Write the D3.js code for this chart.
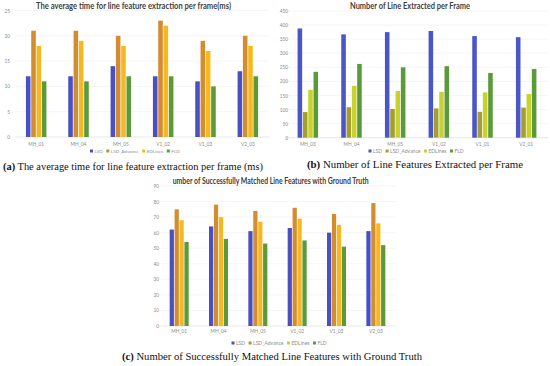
<!DOCTYPE html>
<html><head><meta charset="utf-8">
<script src="https://cdn.jsdelivr.net/npm/d3@7"></script>
<style>
body{margin:0;background:#fff;}
svg{display:block;}
</style></head>
<body>
<svg id="c" width="550" height="366"></svg>
<script>
// ---- DATA ----
const seriesNames = ["LSD", "LSD_Advance", "EDLines", "FLD"];

// (a) average time per frame (ms)
const timeCategories = ["MH_01", "MH_04", "MH_05", "V1_02", "V1_03", "V2_03"];
const timeLSD        = [12, 12, 14, 12, 11, 13];
const timeLSDAdv     = [21, 21, 20, 23, 19, 20];
const timeEDLines    = [18, 19, 18, 22, 17, 18];
const timeFLD        = [11, 11, 12, 12, 10, 12];
const timeTicks      = [0, 5, 10, 15, 20, 25];

// (b) number of lines extracted per frame
const countCategories = ["MH_03", "MH_04", "MH_05", "V1_02", "V1_01", "V2_01"];
const countLSD        = [388, 367, 375, 379, 361, 357];
const countLSDAdv     = [91, 108, 102, 104, 92, 107];
const countEDLines    = [170, 184, 166, 163, 161, 155];
const countFLD        = [234, 262, 250, 254, 230, 244];
const countTicks      = [0, 50, 100, 150, 200, 250, 300, 350, 400, 450];

// (c) successfully matched line features
const matchCategories = ["MH_01", "MH_04", "MH_05", "V1_02", "V1_03", "V2_03"];
const matchLSD        = [62, 64, 61, 63, 60, 61];
const matchLSDAdv     = [75, 78, 74, 76, 72, 79];
const matchEDLines    = [68, 70, 67, 69, 65, 66];
const matchFLD        = [54, 56, 53, 55, 51, 52];
const matchTicks      = [0, 10, 20, 30, 40, 50, 60, 70, 80, 90];

// ---- DRAW ----
const svg = d3.select("#c");
const colorsA = ["#4a50c2", "#d38c2e", "#f5b820", "#5a9a3a"];
const colorsB = ["#4a55c6", "#a39e2e", "#c9d22c", "#5a9a3a"];

function drawChart(o) {
  const g = svg.append("g");
  const x0 = d3.scaleBand().domain(o.categories).range(o.xRange);
  const x1 = d3.scaleBand().domain(seriesNames).range([-o.groupW / 2, o.groupW / 2]).paddingInner(0.14);
  const y = d3.scaleLinear().domain([0, d3.max(o.ticks)]).range(o.yRange);

  // gridlines
  g.append("g").selectAll("line").data(o.ticks).join("line")
    .attr("x1", o.xRange[0]).attr("x2", o.xRange[1])
    .attr("y1", d => y(d)).attr("y2", d => y(d))
    .attr("stroke", d => d === 0 ? "#d9d9d9" : "#eeeeee").attr("stroke-width", 0.6);

  // y tick labels via axis
  const yAxis = g.append("g").attr("transform", `translate(${o.yLabelX},0)`)
    .call(d3.axisLeft(y).tickValues(o.ticks).tickSize(0).tickPadding(0));
  yAxis.select(".domain").remove();
  yAxis.selectAll("text").attr("font-size", 4.8).attr("fill", "#8c8c8c")
    .attr("font-family", "Lato, 'Open Sans', sans-serif");

  // x axis labels
  const xAxis = g.append("g").attr("transform", `translate(0,${o.xLabelY})`)
    .call(d3.axisBottom(x0).tickSize(0).tickPadding(0));
  xAxis.select(".domain").remove();
  xAxis.selectAll("text").attr("font-size", 4.8).attr("fill", "#8c8c8c").attr("dy", "0.35em")
    .attr("font-family", "Lato, 'Open Sans', sans-serif");

  // bars
  const rows = o.categories.map((c, i) => ({ c, vals: o.series.map((s, k) => ({ k, name: seriesNames[k], v: s[i] })) }));
  g.append("g").selectAll("g").data(rows).join("g")
    .attr("transform", d => `translate(${x0(d.c) + x0.bandwidth() / 2},0)`)
    .selectAll("rect").data(d => d.vals).join("rect")
    .attr("x", d => x1(d.name)).attr("width", x1.bandwidth())
    .attr("y", d => y(d.v)).attr("height", d => y(0) - y(d.v))
    .attr("fill", d => o.colors[d.k]);

  // title
  g.append("text").attr("x", o.titleX).attr("y", o.titleY)
    .attr("font-family", "Lato, 'Open Sans', sans-serif").attr("font-weight", "bold")
    .attr("font-size", 8.6).attr("fill", "#404040")
    .attr("text-anchor", o.titleAnchor || "middle")
    .attr("textLength", o.titleW).attr("lengthAdjust", "spacingAndGlyphs")
    .text(o.title);

  // legend
  const lg = g.append("g").attr("transform", `translate(${o.legendX},${o.legendY})`);
  let cx = 0;
  seriesNames.forEach((n, k) => {
    lg.append("rect").attr("x", cx).attr("y", -1.5).attr("width", 3).attr("height", 3).attr("fill", o.legendColors[k]);
    const t = lg.append("text").attr("x", cx + 4.5).attr("y", 0).attr("dy", "0.35em")
      .attr("font-size", o.legendFont).attr("fill", "#8c8c8c")
      .attr("font-family", "Lato, 'Open Sans', sans-serif").text(n);
    cx += 4.5 + t.node().getComputedTextLength() + 3.5;
  });

  // caption
  const cap = g.append("text").attr("x", o.capX).attr("y", o.capY)
    .attr("font-family", "'Liberation Serif', 'DejaVu Serif', serif")
    .attr("font-size", 10.5).attr("fill", "#111")
    .attr("text-anchor", "start")
    .attr("textLength", o.capW).attr("lengthAdjust", "spacingAndGlyphs");
  cap.append("tspan").attr("font-weight", "bold").text(o.capLabel);
  cap.append("tspan").text(" " + o.caption);
}

drawChart({
  categories: timeCategories, series: [timeLSD, timeLSDAdv, timeEDLines, timeFLD], ticks: timeTicks,
  xRange: [15, 269], yRange: [137, 10.5], groupW: 20.5, yLabelX: 10, xLabelY: 144,
  colors: colorsA, legendColors: ["#4a50c2", "#a39e2e", "#f5b820", "#5a9a3a"],
  title: "The average time for line feature extraction per frame(ms)", titleX: 133.5, titleY: 9, titleW: 195,
  legendX: 90, legendY: 151, legendFont: 4.6,
  capLabel: "(a)", caption: "The average time for line feature extraction per frame (ms)", capX: 3, capY: 169.5, capW: 260
});

drawChart({
  categories: countCategories, series: [countLSD, countLSDAdv, countEDLines, countFLD], ticks: countTicks,
  xRange: [286, 548], yRange: [137.7, 11], groupW: 20.5, yLabelX: 288, xLabelY: 144,
  colors: colorsB, legendColors: colorsB,
  title: "Number of Line Extracted per Frame", titleX: 410, titleY: 9, titleW: 120,
  legendX: 368.5, legendY: 151, legendFont: 5,
  capLabel: "(b)", caption: "Number of Line Features Extracted per Frame", capX: 307, capY: 167.5, capW: 216
});

drawChart({
  categories: matchCategories, series: [matchLSD, matchLSDAdv, matchEDLines, matchFLD], ticks: matchTicks,
  xRange: [159.5, 395.5], yRange: [326, 186], groupW: 19, yLabelX: 159, xLabelY: 331,
  colors: colorsA, legendColors: ["#4a50c2", "#a39e2e", "#c9d22c", "#5a9a3a"],
  title: "umber of Successfully Matched Line Features with Ground Truth", titleX: 172.7, titleY: 184, titleW: 196, titleAnchor: "start",
  legendX: 231.5, legendY: 343, legendFont: 5,
  capLabel: "(c)", caption: "Number of Successfully Matched Line Features with Ground Truth", capX: 122, capY: 359.5, capW: 300
});
</script>
</body></html>
